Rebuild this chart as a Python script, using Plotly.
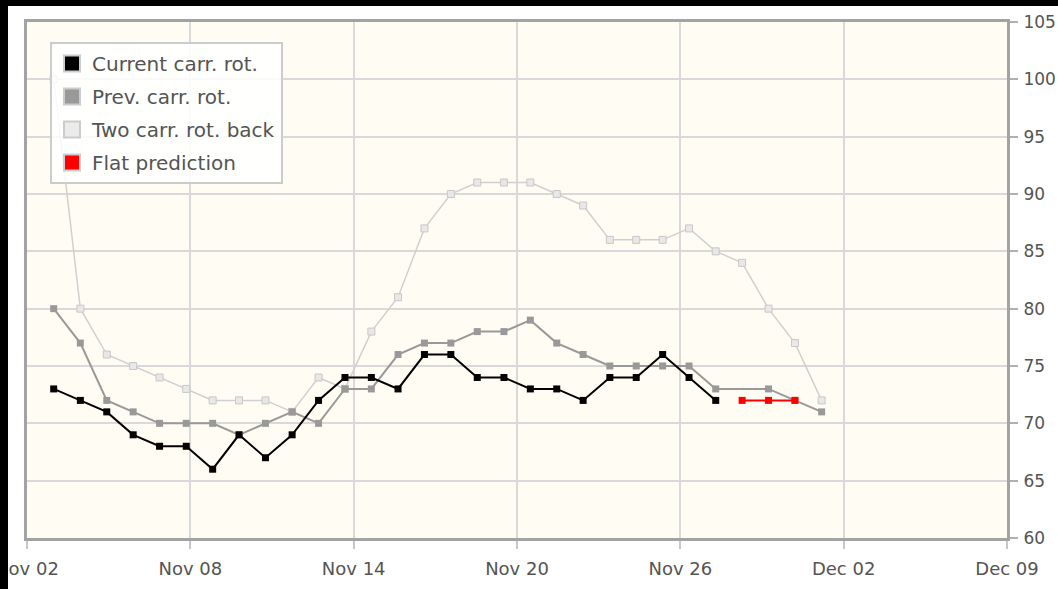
import plotly.graph_objects as go

# Sample times (days after Nov 02), shared by all series
DAY_OFFSETS = [0.98, 1.96, 2.93, 3.90, 4.87, 5.85, 6.82, 7.79, 8.76, 9.74,
               10.71, 11.68, 12.65, 13.63, 14.60, 15.57, 16.54, 17.52, 18.49, 19.46,
               20.43, 21.41, 22.38, 23.35, 24.32, 25.30, 26.27, 27.24, 28.21, 29.19]

CURRENT = [73, 72, 71, 69, 68, 68, 66, 69, 67, 69,
           72, 74, 74, 73, 76, 76, 74, 74, 73, 73,
           72, 74, 74, 76, 74, 72, None, None, None, None]
PREVIOUS = [80, 77, 72, 71, 70, 70, 70, 69, 70, 71,
            70, 73, 73, 76, 77, 77, 78, 78, 79, 77,
            76, 75, 75, 75, 75, 73, None, 73, 72, 71]
TWO_BACK = [100, 80, 76, 75, 74, 73, 72, 72, 72, 71,
            74, 73, 78, 81, 87, 90, 91, 91, 91, 90,
            89, 86, 86, 86, 87, 85, 84, 80, 77, 72]
FLAT_PRED = [None] * 26 + [72, 72, 72, None]

SERIES_NAMES = ["Current carr. rot.", "Prev. carr. rot.", "Two carr. rot. back", "Flat prediction"]

X_TICK_VALS = [0, 6, 12, 18, 24, 30, 36]
X_TICK_TEXT = ["Nov 02", "Nov 08", "Nov 14", "Nov 20", "Nov 26", "Dec 02", "Dec 09"]
Y_TICK_VALS = [60, 65, 70, 75, 80, 85, 90, 95, 100, 105]

W, H = 1058, 589
ML, MR, MT, MB = 27, 51, 22, 51
PW, PH = W - ML - MR, H - MT - MB
FONT = "DejaVu Sans"
TXT = "#545454"

fig = go.Figure()

styles = [
    dict(line=dict(color="#d0d0d0", width=1.5), marker=dict(color="#e8e8e8", size=7, symbol="square", line=dict(color="#c8c8c8", width=1))),
    dict(line=dict(color="#999999", width=2), marker=dict(color="#999999", size=7, symbol="square")),
    dict(line=dict(color="#000000", width=2), marker=dict(color="#000000", size=7, symbol="square")),
    dict(line=dict(color="#ff0000", width=2), marker=dict(color="#ff0000", size=7, symbol="square")),
]
for vals, st in zip([TWO_BACK, PREVIOUS, CURRENT, FLAT_PRED], styles):
    fig.add_trace(go.Scatter(x=DAY_OFFSETS, y=vals, mode="lines+markers",
                             connectgaps=True, showlegend=False, hoverinfo="skip", **st))

legend_colors = ["#000000", "#999999", "#ebebeb", "#ff0000"]
for i, (name, col) in enumerate(zip(SERIES_NAMES, legend_colors)):
    fig.add_trace(go.Scatter(x=[None], y=[None], mode="markers", name=name,
                             legendgroup=f"g{i}",
                             marker=dict(symbol="square", size=16, color=col,
                                         line=dict(color="#cccccc", width=2))))

def px_x(p):
    return (p - ML) / PW

def px_y(p):
    return 1 - (p - MT) / PH

# black strips at top and left of the picture
fig.add_shape(type="rect", xref="paper", yref="paper", layer="above",
              x0=px_x(-5), x1=px_x(8), y0=px_y(H + 5), y1=px_y(-5),
              fillcolor="black", line=dict(width=0))
fig.add_shape(type="rect", xref="paper", yref="paper", layer="above",
              x0=px_x(-5), x1=px_x(W + 5), y0=px_y(6), y1=px_y(-5),
              fillcolor="black", line=dict(width=0))

fig.update_layout(
    width=W, height=H,
    margin=dict(l=ML, r=MR, t=MT, b=MB, autoexpand=False),
    paper_bgcolor="white",
    plot_bgcolor="#fffcf3",
    font=dict(family=FONT, size=19, color=TXT),
    showlegend=True,
    legend=dict(x=px_x(50), y=px_y(42), xanchor="left", yanchor="top",
                bgcolor="rgba(255,255,255,0.85)", bordercolor="#cccccc", borderwidth=2,
                font=dict(family=FONT, size=20, color=TXT),
                tracegroupgap=4, itemclick=False, itemdoubleclick=False),
    xaxis=dict(range=[0, 36], tickmode="array", tickvals=X_TICK_VALS, ticktext=X_TICK_TEXT,
               showgrid=True, gridcolor="#d9d9d9", gridwidth=2, automargin=False,
               showline=True, linecolor="#a3a3a3", linewidth=3, mirror=True,
               ticks="outside", ticklen=8, tickcolor="#c8c8c8", tickwidth=2,
               ticklabelstandoff=4, ticklabeloverflow="allow",
               tickfont=dict(family=FONT, size=18, color=TXT), zeroline=False),
    yaxis=dict(range=[60, 105], tickmode="array", tickvals=Y_TICK_VALS, side="right",
               showgrid=True, gridcolor="#d9d9d9", gridwidth=2, automargin=False,
               showline=True, linecolor="#a3a3a3", linewidth=3, mirror=True,
               ticks="outside", ticklen=8, tickcolor="#b0b0b0", tickwidth=2,
               ticklabelstandoff=2, ticklabeloverflow="allow",
               tickfont=dict(family=FONT, size=17, color=TXT), zeroline=False),
)

fig.write_html("out.html", config={"displayModeBar": False},
               post_script="document.body.style.margin='0';document.body.style.overflow='hidden';")
